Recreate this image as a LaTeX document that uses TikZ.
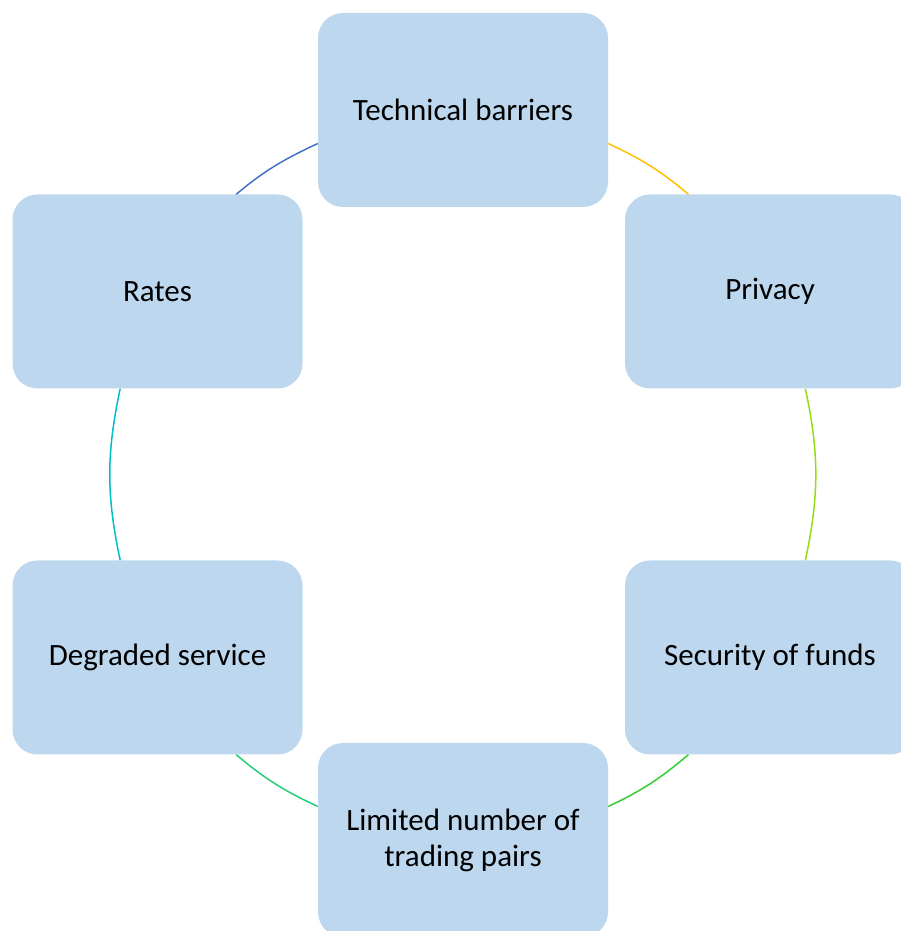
\documentclass[tikz,border=0pt]{standalone}
\usepackage{fontspec}
\setmainfont{Carlito}
\usepackage{xcolor}
\definecolor{boxblue}{RGB}{189,215,238}
\definecolor{arcblue}{RGB}{68,114,196}
\definecolor{arcorange}{RGB}{255,192,0}
\definecolor{arclime}{RGB}{146,222,20}
\definecolor{arcgreen}{RGB}{50,205,50}
\definecolor{arcmint}{RGB}{40,205,120}
\definecolor{arccyan}{RGB}{0,190,200}
\tikzstyle{topicbox} = [fill=boxblue, rounded corners=25pt, minimum width=290pt, minimum height=194pt, inner sep=0pt, align=center, font=\fontsize{31}{36}\selectfont]
\tikzstyle{cyclearc} = [line width=1.5pt]

\begin{document}
\begin{tikzpicture}[x=1pt, y=1pt]
    \useasboundingbox (0,0) rectangle (901,931);

    % Topics
    \node[topicbox] (barriers) at (463,821) {Technical barriers};
    \node[topicbox] (privacy) at (770,639.5) {Privacy};
    \node[topicbox] (security) at (770,273.5) {Security of funds};
    \node[topicbox] (pairs) at (463,91) {Limited number of\\trading pairs};
    \node[topicbox] (degraded) at (157.5,273.5) {Degraded service};
    \node[topicbox] (rates) at (157.5,639.5) {Rates};

    % Cycle arcs
    \draw[cyclearc, arcblue] (rates.51) to[out=40, in=205] (barriers.193);
    \draw[cyclearc, arcorange] (barriers.347) to[out=-25, in=140] (privacy.130);
    \draw[cyclearc, arclime] (privacy.290) to[out=-78, in=78] (security.70);
    \draw[cyclearc, arcgreen] (security.230) to[out=220, in=25] (pairs.13);
    \draw[cyclearc, arcmint] (pairs.167) to[out=155, in=320] (degraded.309);
    \draw[cyclearc, arccyan] (degraded.111) to[out=102, in=258] (rates.249);
\end{tikzpicture}
\end{document}
